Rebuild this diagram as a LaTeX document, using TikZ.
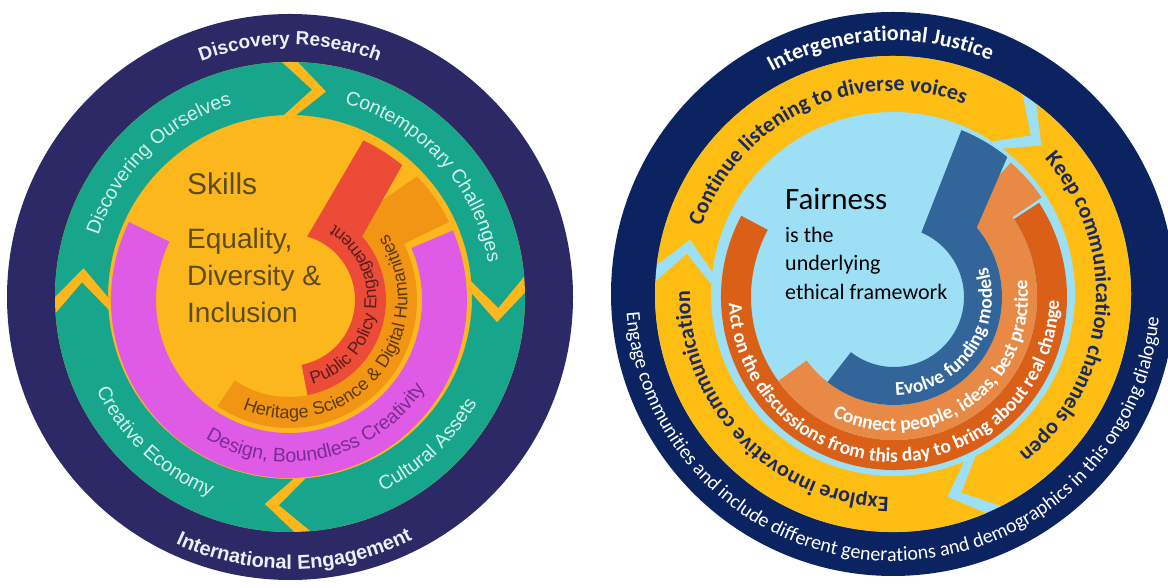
\documentclass[tikz,border=0pt]{standalone}
\usepackage{fontspec}
\setmainfont{Liberation Sans}
\newfontfamily\calibf{Carlito}
\usetikzlibrary{decorations.text,calc}
\definecolor{lnavy}{HTML}{2C2966}
\definecolor{lteal}{HTML}{17A68B}
\definecolor{lyel}{HTML}{FBB71B}
\definecolor{lmag}{HTML}{DF5BE6}
\definecolor{lorg}{HTML}{F29514}
\definecolor{lred}{HTML}{EC4B38}
\definecolor{lwhite}{HTML}{EEEEFA}
\definecolor{ltealtxt}{HTML}{D4F3EC}
\definecolor{lmagtxt}{HTML}{7B2C92}
\definecolor{lorgtxt}{HTML}{5C3A0A}
\definecolor{lredtxt}{HTML}{5A1E1E}
\definecolor{lbrown}{HTML}{5E4B1C}
\definecolor{rnavy}{HTML}{0B2360}
\definecolor{ryel}{HTML}{FDBD12}
\definecolor{rlblue}{HTML}{9DE0F6}
\definecolor{rblue}{HTML}{32669A}
\definecolor{rlorg}{HTML}{E88A45}
\definecolor{rdorg}{HTML}{DA6018}
\definecolor{rtxt}{HTML}{1A2A5E}
% chevron ring segment: center, start, end, rout, rin, rmid, depth, colour
\newcommand\chevseg[8]{%
 \fill[#8] ($(#1)+(#2:#4pt)$) arc[start angle=#2,end angle=#3,radius=#4pt]
   -- ($(#1)+(#3-#7:#6pt)$) -- ($(#1)+(#3:#5pt)$)
   arc[start angle=#3,end angle=#2,radius=#5pt]
   -- ($(#1)+(#2-#7:#6pt)$) -- cycle;}
% text on arc: center, radius, a1, a2, format, text
\newcommand\arctxt[6]{%
 \path[decorate,decoration={text along path,text align=center,text={|#5|#6}}]
   ($(#1)+(#3:#2pt)$) arc[start angle=#3,end angle=#4,radius=#2pt];}
\begin{document}
\begin{tikzpicture}[x=1pt,y=1pt,
  skill/.style={anchor=base west,inner sep=0pt,text=lbrown},
  fair/.style={anchor=base west,inner sep=0pt,text=black,font=\calibf\fontsize{22}{22}\selectfont}]
\useasboundingbox (0,0) rectangle (1168,588);
\fill[white] (0,0) rectangle (1168,588);
\clip (0,0) rectangle (1168,588);
\coordinate (L) at (290,291);
\coordinate (Li) at (289,288);
\coordinate (R) at (893,294);
\coordinate (Ri) at (894,291);

% ================= LEFT =================
\fill[lnavy] (L) circle[radius=283pt];
\fill[lyel] (L) circle[radius=235pt];
\chevseg{L}{88}{5}{235}{182}{208.5}{8}{lteal}
\chevseg{L}{1}{-85}{235}{182}{208.5}{8}{lteal}
\chevseg{L}{-89}{-176}{235}{182}{208.5}{8}{lteal}
\chevseg{L}{180}{92}{235}{182}{208.5}{8}{lteal}
% magenta
\fill[lmag] ($(Li)+(154:178pt)$) arc[start angle=154,end angle=383,radius=178pt]
  -- ($(Li)+(383:133pt)$) arc[start angle=383,end angle=154,radius=133pt] -- cycle;
% orange
\fill[lorg] ($(Li)+(236:97pt)$) -- ($(Li)+(236:128pt)$) arc[start angle=236,end angle=386,radius=128pt]
  -- ($(Li)+(386:178pt)$) arc[start angle=386,end angle=404,radius=178pt]
  -- ($(Li)+(412:97pt)$) arc[start angle=412,end angle=236,radius=97pt] -- cycle;
% red
\fill[lred] ($(Li)+(281:66pt)$) -- ($(Li)+(281:97pt)$) arc[start angle=281,end angle=401,radius=97pt]
  -- ($(Li)+(410:176pt)$) arc[start angle=410,end angle=425,radius=176pt]
  -- ($(Li)+(434:66pt)$) arc[start angle=434,end angle=281,radius=66pt] -- cycle;

\arctxt{L}{252}{170}{10}{\bfseries\fontsize{19}{19}\selectfont\color{lwhite}}{Discovery Research}
\arctxt{L}{272}{191}{351}{\bfseries\fontsize{20}{20}\selectfont\color{lwhite}}{International Engagement}
\arctxt{L}{201}{214.5}{54.5}{\fontsize{19.5}{19.5}\selectfont\color{ltealtxt}}{Discovering Ourselves}
\arctxt{L}{201}{122}{-38}{\fontsize{19.5}{19.5}\selectfont\color{ltealtxt}}{Contemporary Challenges}
\arctxt{L}{215}{147}{307}{\fontsize{19.5}{19.5}\selectfont\color{ltealtxt}}{Creative Economy}
\arctxt{L}{215}{233}{393}{\fontsize{19.5}{19.5}\selectfont\color{ltealtxt}}{Cultural Assets}
\arctxt{Li}{162}{183}{383}{\fontsize{19.5}{19.5}\selectfont\color{lmagtxt}}{Design, Boundless Creativity}
\arctxt{Li}{118.5}{220}{421}{\fontsize{18}{18}\selectfont\color{lorgtxt}}{Heritage Science {\&} Digital Humanities}
\arctxt{Li}{87.5}{252}{452}{\fontsize{17.5}{17.5}\selectfont\color{lredtxt}}{Public Policy Engagement}

\node[skill,font=\fontsize{30}{30}\selectfont] (skills) at (187,393) {Skills};
\node[skill,font=\fontsize{28}{28}\selectfont] (edi1) at (187,339) {Equality,};
\node[skill,font=\fontsize{28}{28}\selectfont] (edi2) at (187,302) {Diversity \&};
\node[skill,font=\fontsize{28}{28}\selectfont] (edi3) at (187,265) {Inclusion};

% ================= RIGHT =================
\fill[rnavy] (R) circle[radius=282pt];
\fill[rlblue] (R) circle[radius=238pt];
\chevseg{R}{173}{57}{238}{182}{210}{8}{ryel}
\chevseg{R}{53}{-63}{238}{182}{210}{8}{ryel}
\chevseg{R}{-67}{-183}{238}{182}{210}{8}{ryel}
% dark orange
\fill[rdorg] ($(Ri)+(152:173pt)$) arc[start angle=152,end angle=393,radius=173pt]
  -- ($(Ri)+(393:143pt)$) arc[start angle=393,end angle=152,radius=143pt] -- cycle;
% light orange
\fill[rlorg] ($(Ri)+(216:108pt)$) -- ($(Ri)+(216:143pt)$) arc[start angle=216,end angle=394,radius=143pt]
  -- ($(Ri)+(394:178pt)$) arc[start angle=394,end angle=409,radius=178pt]
  -- ($(Ri)+(410:108pt)$) arc[start angle=410,end angle=216,radius=108pt] -- cycle;
% blue
\fill[rblue] ($(Ri)+(232:70pt)$) -- ($(Ri)+(232:108pt)$) arc[start angle=232,end angle=400,radius=108pt]
  -- ($(Ri)+(411:180pt)$) arc[start angle=411,end angle=428,radius=180pt]
  -- ($(Ri)+(427:70pt)$) arc[start angle=427,end angle=232,radius=70pt] -- cycle;

\arctxt{R}{253}{173}{13}{\calibf\bfseries\fontsize{22}{22}\selectfont\color{white}}{Intergenerational Justice}
\arctxt{R}{203}{205}{25}{\calibf\bfseries\fontsize{22}{22}\selectfont\color{rtxt}}{Continue listening to diverse voices}
\arctxt{R}{203}{85}{-95}{\calibf\bfseries\fontsize{22}{22}\selectfont\color{rtxt}}{Keep communication channels open}
\arctxt{R}{203}{314}{134}{\calibf\bfseries\fontsize{22}{22}\selectfont\color{rtxt}}{Explore innovative communication}
\arctxt{R}{267}{159.5}{379.5}{\calibf\fontsize{20}{20}\selectfont\color{white}}{Engage communities and include different generations and demographics in this ongoing dialogue}
\arctxt{Ri}{165}{155.5}{385.5}{\calibf\bfseries\fontsize{19.5}{19.5}\selectfont\color{white}}{Act on the discussions from this day to bring about real change}
\arctxt{Ri}{134}{200}{410}{\calibf\bfseries\fontsize{19.5}{19.5}\selectfont\color{white}}{Connect people, ideas, best practice}
\arctxt{Ri}{98}{224.5}{424.5}{\calibf\bfseries\fontsize{19.5}{19.5}\selectfont\color{white}}{Evolve funding models}

\node[anchor=base west,inner sep=0pt,font=\calibf\fontsize{31}{31}\selectfont] (fair) at (785,378) {Fairness};
\node[fair] (fair1) at (785,345) {is the};
\node[fair] (fair2) at (785,317) {underlying};
\node[fair] (fair3) at (785,288) {ethical framework};
\end{tikzpicture}
\end{document}
